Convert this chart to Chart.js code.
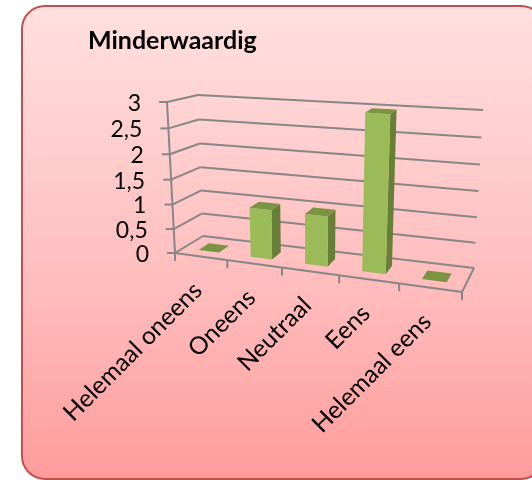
<!DOCTYPE html>
<html><head><meta charset="utf-8">
<style>
html,body{margin:0;padding:0;background:#fff;width:532px;height:480px;overflow:hidden}
#panel{position:absolute;left:21px;top:5px;width:524px;height:475px;box-sizing:border-box;border:2px solid #c0504d;border-radius:24px;background:linear-gradient(180deg,#ffe0e0 0%,#ffbcbc 60%,#ff9c9c 100%)}
#wrap{position:absolute;left:0;top:0;width:532px;height:480px}
</style>
<script src="https://cdn.jsdelivr.net/npm/chart.js@4/dist/chart.umd.min.js"></script>
</head><body>
<div id="panel"></div>
<div id="wrap"><canvas id="c" width="532" height="480"></canvas></div>
<script>
const titleText = 'Minderwaardig';
const categories = ['Helemaal oneens','Oneens','Neutraal','Eens','Helemaal eens'];
const values = [0,1,1,3,0];
const yTickStep = 0.5;
const yMax = 3;

const FONT = 'Lato, Carlito, sans-serif';
// Box corners of the perspective frame
const front = {bl:[175,253],br:[462,292],tr:[472,124],tl:[167,102]};
const back  = {bl:[203,236],br:[474,268],tr:[483,110],tl:[198,95]};
const barD = [0.30,0.68];

function homography(q){
  const [x0,y0]=q.bl,[x1,y1]=q.br,[x2,y2]=q.tr,[x3,y3]=q.tl;
  const dx1=x1-x2,dx2=x3-x2,dx3=x0-x1+x2-x3,dy1=y1-y2,dy2=y3-y2,dy3=y0-y1+y2-y3;
  const den=dx1*dy2-dx2*dy1;
  const g=(dx3*dy2-dx2*dy3)/den,h=(dx1*dy3-dx3*dy1)/den;
  const a=x1-x0+g*x1,b=x3-x0+h*x3,c=x0,d=y1-y0+g*y1,e=y3-y0+h*y3,f=y0;
  return (u,v)=>{const w=g*u+h*v+1;return [(a*u+b*v+c)/w,(d*u+e*v+f)/w];};
}
const hf=homography(front),hb=homography(back);
function P(u,v,d){const p=hf(u,v),q=hb(u,v);return [p[0]+(q[0]-p[0])*d,p[1]+(q[1]-p[1])*d];}
function poly(ctx,pts,fill){ctx.beginPath();pts.forEach((p,i)=>i?ctx.lineTo(p[0],p[1]):ctx.moveTo(p[0],p[1]));ctx.closePath();ctx.fillStyle=fill;ctx.fill();}
function line(ctx,a,b){ctx.beginPath();ctx.moveTo(a[0],a[1]);ctx.lineTo(b[0],b[1]);ctx.stroke();}

const perspective={
  id:'perspective',
  beforeDatasetsDraw(chart){
    const {ctx,chartArea:A,scales:{x,y}}=chart;
    const V=val=>(A.bottom-y.getPixelForValue(val))/A.height;
    ctx.save();
    ctx.strokeStyle='#878787';ctx.lineWidth=2;
    y.ticks.forEach(t=>{
      const v=V(t.value);
      const a=hf(0,v);
      line(ctx,[a[0]-8,a[1]],a);
      line(ctx,a,hb(0,v));
      line(ctx,hb(0,v),hb(1,v));
    });
    line(ctx,hf(0,0),hf(0,1));
    line(ctx,hf(0,0),hf(1,0));
    line(ctx,hf(1,0),hb(1,0));
    for(let i=0;i<=categories.length;i++){
      const p=hf(i/categories.length,0);
      line(ctx,p,[p[0],p[1]+8]);
    }
    ctx.restore();
  },
  beforeDatasetDraw(chart,args){
    const {ctx,chartArea:A}=chart;
    const meta=chart.getDatasetMeta(args.index);
    meta.data.forEach(el=>{
      const u0=(el.x-el.width/2-A.left)/A.width,u1=(el.x+el.width/2-A.left)/A.width;
      const v1=(A.bottom-el.y)/A.height,v0=(A.bottom-el.base)/A.height;
      const [d0,d1]=barD;
      if(v1>v0){
        poly(ctx,[P(u1,v0,d0),P(u1,v0,d1),P(u1,v1,d1),P(u1,v1,d0)],'#687f37');
        poly(ctx,[P(u0,v0,d0),P(u1,v0,d0),P(u1,v1,d0),P(u0,v1,d0)],'#9bbb59');
      }
      poly(ctx,[P(u0,v1,d0),P(u1,v1,d0),P(u1,v1,d1),P(u0,v1,d1)],'#7a9442');
    });
    return false;
  },
  afterDraw(chart){
    const {ctx,chartArea:A,scales:{x,y}}=chart;
    ctx.save();
    ctx.fillStyle='#000';
    ctx.font='bold 25px '+FONT;
    ctx.textAlign='left';ctx.textBaseline='middle';
    ctx.fillText(titleText,88,41);
    ctx.font='23px '+FONT;
    ctx.textAlign='right';
    y.ticks.forEach(t=>{
      const v=(A.bottom-y.getPixelForValue(t.value))/A.height;
      const p=hf(0,v);
      ctx.fillText(t.label,p[0]-26,p[1]+1.5);
    });
    ctx.font='24.5px '+FONT;
    categories.forEach((c,i)=>{
      const u=(x.getPixelForValue(i)-A.left)/A.width;
      const p=hf(u,0);
      ctx.save();
      ctx.translate(p[0]-3,p[1]+30);
      ctx.rotate(-Math.PI/4);
      ctx.fillText(c,0,0);
      ctx.restore();
    });
    ctx.restore();
  }
};

new Chart(document.getElementById('c'),{
  type:'bar',
  data:{labels:categories,datasets:[{data:values,backgroundColor:'#9bbb59',barPercentage:0.4,categoryPercentage:1}]},
  options:{
    responsive:false,animation:false,
    layout:{padding:{left:175,right:70,top:102,bottom:227}},
    plugins:{legend:{display:false},tooltip:{enabled:false},title:{display:false}},
    scales:{
      x:{display:false,offset:true,ticks:{autoSkip:false}},
      y:{display:false,min:0,max:yMax,ticks:{stepSize:yTickStep,callback:v=>String(v).replace('.',',')}}
    }
  },
  plugins:[perspective]
});
</script>
</body></html>
